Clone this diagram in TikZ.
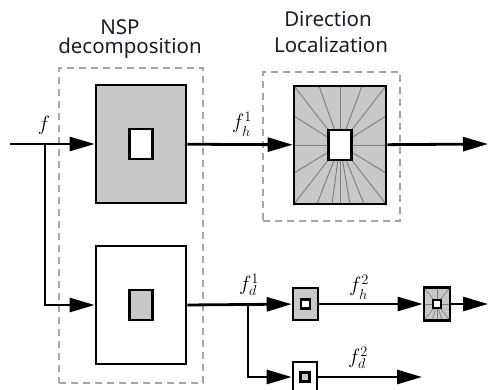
\documentclass[tikz,border=0pt]{standalone}
\usepackage{fontspec}
\newfontfamily\headfont{Noto Sans}
\usetikzlibrary{arrows.meta}
\definecolor{boxgray}{RGB}{200,200,200}
\definecolor{raygray}{RGB}{125,125,125}
\definecolor{dashgray}{RGB}{165,165,165}
\definecolor{headink}{RGB}{28,28,40}
% subscript h set a little lower so it clears the superscript
\newcommand{\lowh}{\raisebox{-2.5pt}{$\scriptstyle h$}}

\tikzset{
  wire/.style={line width=2.8pt},
  flow/.style={wire, -{Triangle[length=25pt,width=14pt]}},
  stage/.style={draw=dashgray, line width=1.3pt, dash pattern=on 7pt off 5pt,
    rectangle, inner sep=0pt},
  bigbox/.style={draw, line width=2.6pt, rectangle, inner sep=0pt,
    minimum width=90pt, minimum height=118pt},
  hole/.style={draw, line width=2.6pt, rectangle, inner sep=0pt,
    minimum width=23pt, minimum height=30pt},
  smallbox/.style={draw, line width=2.6pt, rectangle, inner sep=0pt,
    minimum width=25pt, minimum height=32pt},
  pinhole/.style={draw, line width=2.3pt, rectangle, inner sep=0pt,
    minimum width=9pt, minimum height=9pt},
  ray/.style={draw=raygray, line width=0.9pt},
  % fan of direction lines, clipped to the box
  bigfan/.style={path picture={
    \foreach \dx/\dy in {-46/59,-21/59,0/59,22/59,46/59,
                         -46/29,-46/0,-46/-28,46/29,46/0,46/-28,
                         -46/-59,-23/-59,-8/-59,0/-59,10/-59,24/-59,46/-59}
      \draw[ray] (path picture bounding box.center) -- ++(\dx pt,\dy pt);}},
  smallfan/.style={path picture={
    \foreach \dx/\dy in {-13/16.5,0/16.5,13/16.5,-13/0,13/0,
                         -13/-16.5,-5/-16.5,0/-16.5,5/-16.5,13/-16.5}
      \draw[ray, line width=0.6pt] (path picture bounding box.center) -- ++(\dx pt,\dy pt);}},
  head/.style={anchor=base, inner sep=0pt, text=headink,
    font=\headfont\fontsize{20.5}{20.5}\selectfont},
  sig/.style={inner sep=0pt, font=\fontsize{20}{20}\selectfont}
}

\begin{document}
\begin{tikzpicture}[x=1pt,y=-1pt]
\useasboundingbox (0,0) rectangle (488,390);
\clip (0,0) rectangle (488,390);

% stage frames
\node[stage, minimum width=144pt, minimum height=315pt] (nsp) at (131,225.5) {};
\node[stage, minimum width=137pt, minimum height=149pt] (dl) at (331.5,146.5) {};

% headings
\node[head] (nsp1) at (120,35) {NSP};
\node[head] (nsp2) at (130,54) {decomposition};
\node[head] (dl1) at (328,27) {Direction};
\node[head] (dl2) at (331,53) {Localization};

% first level: highpass and lowpass filters
\node[bigbox, fill=boxgray] (hp) at (141,144) {};
\node[hole, fill=white] (hpin) at (hp.center) {};
\node[bigbox, fill=white] (lp) at (141,305) {};
\node[hole, fill=boxgray] (lpin) at (lp.center) {};

% directional filter bank
\node[bigbox, fill=boxgray, bigfan, minimum width=92pt] (dfb) at (340,145) {};
\node[hole, fill=white] (dfbin) at (dfb.center) {};

% second level
\node[smallbox, fill=boxgray] (hp2) at (305.5,304) {};
\node[pinhole, fill=white] (hp2in) at (hp2.center) {};
\node[smallbox, fill=boxgray, smallfan, minimum width=26pt, minimum height=33pt] (dfb2) at (437,304) {};
\node[pinhole, fill=white, minimum width=8pt, minimum height=8pt] (dfb2in) at (dfb2.center) {};
\node[smallbox, fill=white, minimum width=24pt, minimum height=30pt] (lp2) at (305,377) {};
\node[pinhole, fill=boxgray] (lp2in) at (lp2.center) {};

% signal path
\coordinate (in) at (10,144);
\coordinate (split1) at (45,144);
\coordinate (split2) at (248,304);
\coordinate (out1) at (488,144);
\coordinate (out2) at (488,304);
\coordinate (out3) at (422,377);

\draw[flow] (in) -- (hp);
\draw[flow] (split1) |- (lp);
\draw[flow] (hp) -- (dfb);
\draw[flow] (dfb) -- (out1);
\draw[flow] (lp.east) -- (hp2);
\draw[flow] (split2) |- (lp2);
\draw[flow] (hp2) -- (dfb2);
\draw[flow] (dfb2) -- (out2);
\draw[flow] (lp2) -- (out3);

% signal labels
\node[sig] (lf) at (44,125) {$f$};
\node[sig] (lfh1) at (242,124) {$f_{\lowh}^1$};
\node[sig] (lfd1) at (249,285) {$f_d^1$};
\node[sig] (lfh2) at (359,287) {$f_{\lowh}^2$};
\node[sig] (lfd2) at (358,358) {$f_d^2$};
\end{tikzpicture}
\end{document}
